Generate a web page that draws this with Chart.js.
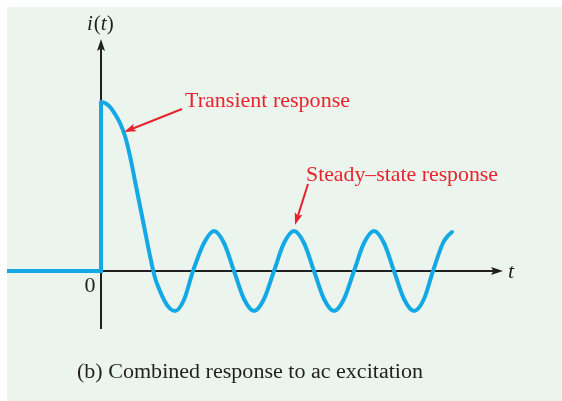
<!DOCTYPE html>
<html><head><meta charset="utf-8">
<script src="https://cdn.jsdelivr.net/npm/chart.js@4.4.0/dist/chart.umd.min.js"></script>
<style>html,body{margin:0;padding:0;background:#fff;overflow:hidden}#wrap{position:relative;width:562px;height:401px}
#probe{position:absolute;left:-999px;top:0;font-family:"Liberation Serif";font-size:20px}</style>
</head><body><span id="probe">Ab <i>i</i></span><div id="wrap"><canvas id="c" width="562" height="401"></canvas></div>
<script>
// Time (arbitrary units) and current i(t) (units of steady-state amplitude)
const stepT = [-11.75, 0, 0];
const stepI = [0, 0, 4.225];
const responseT = [0, 0.5, 1.125, 1.75, 2.375, 3.0, 3.625, 4.25, 4.875, 5.5, 6.125, 6.75, 7.375, 8.0, 8.625, 9.25,
  10.375, 11.5, 12.875, 14.125, 15.375, 16.625, 17.875, 19.125, 20.375, 21.625, 22.875, 24.125, 25.375, 26.625,
  27.875, 29.125, 30.375, 31.625, 32.875, 34.125, 35.375, 36.625, 37.875, 39.125, 40.375, 41.5, 42.75, 43.375, 43.875];
const responseI = [4.225, 4.2, 4.1, 3.925, 3.7, 3.375, 2.875, 2.25, 1.625, 1.0, 0.375, -0.17, -0.5, -0.77, -0.94, -1.0,
  -0.72, 0, 0.7, 1.0, 0.7, 0, -0.7, -1.0, -0.7, 0, 0.7, 1.0, 0.7, 0,
  -0.7, -1.0, -0.7, 0, 0.7, 1.0, 0.7, 0, -0.7, -1.0, -0.7, 0, 0.7, 0.88, 0.975];
const yAxisLabel = ['i', '(', 't', ')'];
const xAxisLabel = 't';
const originLabel = '0';
const transientLabel = 'Transient response';
const steadyLabel = 'Steady\u2013state response';
const captionText = '(b) Combined response to ac excitation';
// annotation anchors (data points the arrows point at)
const transientAnchor = {t: 3.0, i: 3.375};
const steadyAnchor = {t: 24.125, i: 1.0};

const toXY = (ts, is) => ts.map((t, k) => ({x: t, y: is[k]}));
const BLUE = '#14A8E4', RED = '#E8232E', DARK = '#231F20';
const SERIF = '"Liberation Serif", "Times New Roman", serif';

function drawText(ctx, str, x, y, font, color, targetW, align) {
  ctx.save();
  ctx.font = font;
  const w = ctx.measureText(str).width;
  const s = targetW ? targetW / w : 1;
  ctx.translate(x, y);
  ctx.scale(s, 1);
  ctx.fillStyle = color;
  ctx.textBaseline = 'alphabetic';
  ctx.textAlign = align || 'left';
  ctx.fillText(str, 0, 0);
  ctx.restore();
}
function arrowHead(ctx, tx, ty, fx, fy, len, half, color) {
  const a = Math.atan2(ty - fy, tx - fx);
  ctx.save();
  ctx.translate(tx, ty);
  ctx.rotate(a);
  ctx.beginPath();
  ctx.moveTo(0, 0);
  ctx.lineTo(-len, -half);
  ctx.lineTo(-len * 0.8, 0);
  ctx.lineTo(-len, half);
  ctx.closePath();
  ctx.fillStyle = color;
  ctx.fill();
  ctx.restore();
}
function arrow(ctx, fx, fy, tx, ty, color, lw, len, half) {
  const a = Math.atan2(ty - fy, tx - fx);
  ctx.save();
  ctx.strokeStyle = color; ctx.lineWidth = lw; ctx.lineCap = 'butt';
  ctx.beginPath(); ctx.moveTo(fx, fy);
  ctx.lineTo(tx - Math.cos(a) * len * 0.8, ty - Math.sin(a) * len * 0.8);
  ctx.stroke();
  ctx.restore();
  arrowHead(ctx, tx, ty, fx, fy, len, half, color);
}

const deco = {
  id: 'deco',
  beforeDraw(chart) {
    const ctx = chart.ctx;
    ctx.save();
    ctx.fillStyle = '#EBF5EE';
    ctx.fillRect(7, 7, 555, 394);
    ctx.restore();
  },
  beforeDatasetsDraw(chart) {
    const ctx = chart.ctx, xs = chart.scales.x, ys = chart.scales.y;
    const x0 = xs.getPixelForValue(0), y0 = ys.getPixelForValue(0);
    arrow(ctx, x0, y0, 503, y0, DARK, 2, 12, 4);
    arrow(ctx, x0, 329, x0, 39, DARK, 2, 12, 4);
  },
  afterDraw(chart) {
    const ctx = chart.ctx, xs = chart.scales.x, ys = chart.scales.y;
    const x0 = xs.getPixelForValue(0), y0 = ys.getPixelForValue(0);
    let lx = 87;
    const parts = [[yAxisLabel[0], 'italic 21px ' + SERIF], [yAxisLabel[1], '21px ' + SERIF], [yAxisLabel[2], 'italic 21px ' + SERIF], [yAxisLabel[3], '21px ' + SERIF]];
    parts.forEach(([s, f]) => { ctx.font = f; const w = ctx.measureText(s).width; drawText(ctx, s, lx, 30, f, DARK); lx += w + (s === 'i' ? 1 : 0); });
    drawText(ctx, xAxisLabel, 508, 278, 'italic 22px ' + SERIF, DARK);
    drawText(ctx, originLabel, x0 - 11, y0 + 21, '22px ' + SERIF, DARK, null, 'center');
    const tx = xs.getPixelForValue(transientAnchor.t) - 1, ty = ys.getPixelForValue(transientAnchor.i) - 4;
    arrow(ctx, 182, 109, tx, ty, RED, 2, 12, 4);
    drawText(ctx, transientLabel, 185, 107, '21px ' + SERIF, RED, 165);
    const sx = xs.getPixelForValue(steadyAnchor.t) + 1, sy = ys.getPixelForValue(steadyAnchor.i) - 6;
    arrow(ctx, 308, 184, sx, sy, RED, 2, 12, 4);
    drawText(ctx, steadyLabel, 306, 181, '21px ' + SERIF, RED, 192);
    drawText(ctx, captionText, 77, 378, '20px ' + SERIF, DARK, 346);
  }
};

function build() {
  new Chart(document.getElementById('c'), {
    type: 'scatter',
    data: {
      datasets: [
        {data: toXY(stepT, stepI), showLine: true, borderColor: BLUE, borderWidth: 4, pointRadius: 0, tension: 0,
         borderJoinStyle: 'miter', borderCapStyle: 'butt', clip: false},
        {data: toXY(responseT, responseI), showLine: true, borderColor: BLUE, borderWidth: 4, pointRadius: 0,
         cubicInterpolationMode: 'monotone', borderCapStyle: 'round', clip: false}
      ]
    },
    options: {
      responsive: false,
      devicePixelRatio: 1,
      animation: false,
      events: [],
      layout: {padding: {left: 7, right: 55, top: 40, bottom: 70}},
      scales: {
        x: {type: 'linear', min: -11.75, max: 50.75, display: false},
        y: {type: 'linear', min: -1.5, max: 5.775, display: false}
      },
      plugins: {legend: {display: false}, tooltip: {enabled: false}}
    },
    plugins: [deco]
  });
}
Promise.all([
  document.fonts.load('21px "Liberation Serif"'),
  document.fonts.load('italic 21px "Liberation Serif"')
]).then(build, build);
</script>
</body></html>
